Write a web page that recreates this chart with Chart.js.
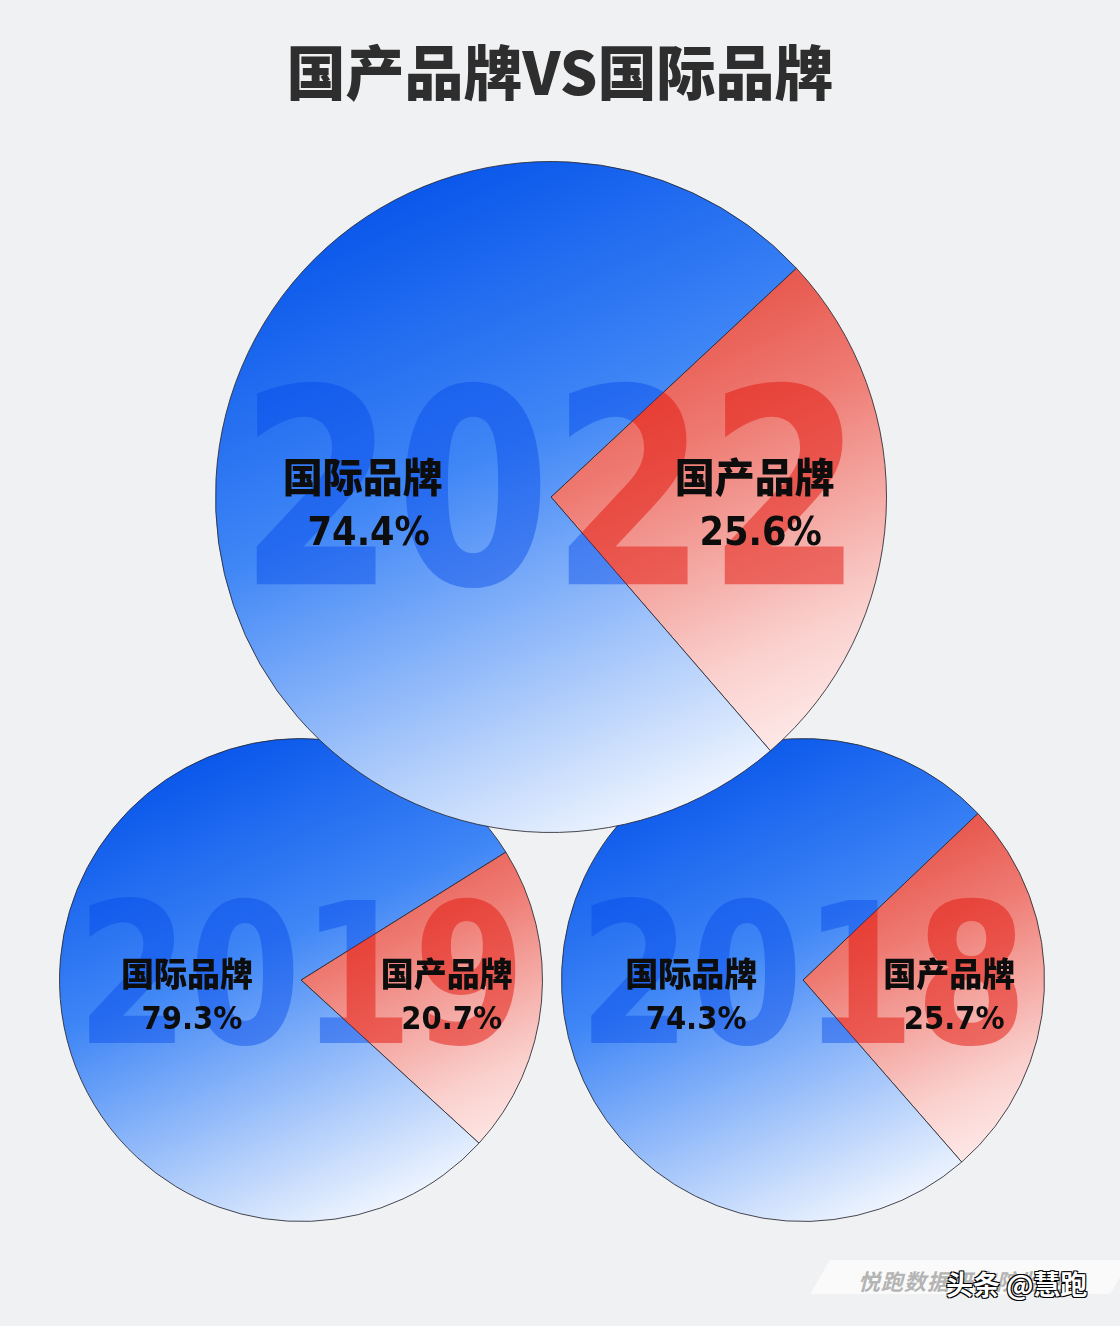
<!DOCTYPE html>
<html>
<head>
<meta charset="utf-8">
<script src="https://cdn.jsdelivr.net/npm/chart.js@4.4.1/dist/chart.umd.min.js"></script>
<style>
  body { margin: 0; background: #f0f1f3; }
  #page { position: relative; width: 1120px; height: 1326px; overflow: hidden; background: #f0f1f3; }
  #title { position: absolute; left: 0; width: 1120px; top: 27px; text-align: center;
           font: 900 59px "Noto Sans CJK SC", sans-serif; color: #2e2e2e; }
  canvas { position: absolute; }
  #band { position: absolute; left: 820px; top: 1260px; width: 300px; height: 34px; background: #fafafa;
          transform: skewX(-30deg); }
  #mark1 { position: absolute; left: 858px; top: 1264px; font: italic 700 22px "Noto Sans CJK SC", sans-serif;
           color: #b4b4b4; letter-spacing: 1px; }
  #mark2 { position: absolute; left: 946px; top: 1264px; font: 700 27px "Noto Sans CJK SC", sans-serif;
           color: #fff; text-shadow: 1px 1px 0 #000, -1px 1px 0 #000, 1px -1px 0 #000, -1px -1px 0 #000; }
</style>
</head>
<body>
<div id="page">
  <div id="title">国产品牌VS国际品牌</div>
  <canvas id="pie2019" width="500" height="500" style="left:51px;top:730px"></canvas>
  <canvas id="pie2018" width="500" height="500" style="left:553px;top:730px"></canvas>
  <canvas id="pie2022" width="680" height="680" style="left:211px;top:157px"></canvas>
  <div id="band"></div>
  <div id="mark1">悦跑数据研究院监制</div>
  <div id="mark2">头条 @慧跑</div>
</div>
<script>
// --- DATA ---
const years = ['2022', '2019', '2018'];
const categories = ['国产品牌', '国际品牌'];
const domestic = [25.6, 20.7, 25.7];
const international = [74.4, 79.3, 74.3];

// --- STYLE ---
const canvasIds = ['pie2022', 'pie2019', 'pie2018'];
const rotations = [47, 58, 46.4];
const pads = [4, 8, 8];
const labelFont = [40, 33, 33];
const blueLabelR = [0.55, 0.46, 0.45];
const labelDrop = [0.027, 0.07, 0.07];
const blueStops = [[0, '#0553ea'], [0.4, '#3f86f6'], [0.75, '#b0cdfb'], [1, '#ffffff']];
const redStops = [[0, '#d81a0e'], [0.2, '#e2382c'], [0.5, '#ee7a72'], [0.8, '#fad0cd'], [1, '#fff6f6']];

// one scriptable fill: red for the first slice, blue for the second
function sliceFill(c) {
    const stops = c.dataIndex === 0 ? redStops : blueStops;
    const chart = c.chart, a = chart.chartArea;
    if (!a) return stops[1][1];
    const w = a.right - a.left;
    const g = chart.ctx.createLinearGradient(a.left + w * 0.3, a.top, a.right - w * 0.25, a.bottom);
    stops.forEach(s => g.addColorStop(s[0], s[1]));
    return g;
}

// year text behind labels + slice labels, drawn over the arcs
const overlayPlugin = {
    id: 'overlay',
    afterDatasetsDraw(chart, args, opts) {
        const ctx = chart.ctx;
        const arcs = chart.getDatasetMeta(0).data;
        const first = arcs[0];
        const cx = first.x, cy = first.y, r = first.outerRadius;
        const tints = ['rgba(225,20,10,0.5)', 'rgba(0,70,230,0.42)'];
        const yearFont = 'bold 100px "DejaVu Sans Condensed", "DejaVu Sans", sans-serif';

        // measure the year at a reference size then stretch to fit
        ctx.save();
        ctx.font = yearFont;
        const m = ctx.measureText(opts.year);
        const asc = m.actualBoundingBoxAscent;
        const sx = (r * 1.86) / m.width, sy = (r * 0.61) / asc;
        ctx.restore();

        arcs.forEach((arc, i) => {
            ctx.save();
            ctx.beginPath();
            ctx.moveTo(cx, cy);
            ctx.arc(cx, cy, r, arc.startAngle, arc.endAngle);
            ctx.closePath();
            ctx.clip();
            ctx.translate(cx, cy - r * 0.05 + r * 0.31);
            ctx.scale(sx, sy);
            ctx.font = yearFont;
            ctx.textAlign = 'center';
            ctx.textBaseline = 'alphabetic';
            ctx.fillStyle = tints[i];
            ctx.fillText(opts.year, 0, 0);
            ctx.restore();
        });

        // slice labels
        const values = chart.data.datasets[0].data;
        arcs.forEach((arc, i) => {
            const mid = (arc.startAngle + arc.endAngle) / 2;
            const rr = r * (i === 0 ? 0.62 : opts.blueR);
            const x = cx + Math.cos(mid) * rr;
            const y = cy + r * opts.drop;
            const fs = opts.fontSize;
            ctx.save();
            ctx.fillStyle = '#0d0d0d';
            ctx.textAlign = 'center';
            ctx.textBaseline = 'middle';
            ctx.font = `900 ${fs}px "Noto Sans CJK SC", sans-serif`;
            ctx.fillText(chart.data.labels[i], x - fs * 0.1, y - fs * 0.72);
            ctx.font = `bold ${fs * 0.98}px "DejaVu Sans Condensed", "DejaVu Sans", sans-serif`;
            ctx.fillText(values[i].toFixed(1) + '%', x + fs * 0.05, y + fs * 0.72);
            ctx.restore();
        });
    }
};

years.forEach((year, k) => {
    new Chart(document.getElementById(canvasIds[k]), {
        type: 'pie',
        data: {
            labels: categories,
            datasets: [{
                data: [domestic[k], international[k]],
                backgroundColor: sliceFill,
                borderColor: 'rgba(40,40,48,0.85)',
                borderWidth: 1
            }]
        },
        options: {
            responsive: false,
            animation: false,
            rotation: rotations[k],
            layout: { padding: pads[k] },
            plugins: {
                legend: { display: false },
                tooltip: { enabled: false },
                overlay: { year: year, fontSize: labelFont[k], blueR: blueLabelR[k], drop: labelDrop[k] }
            }
        },
        plugins: [overlayPlugin]
    });
});
</script>
</body>
</html>
